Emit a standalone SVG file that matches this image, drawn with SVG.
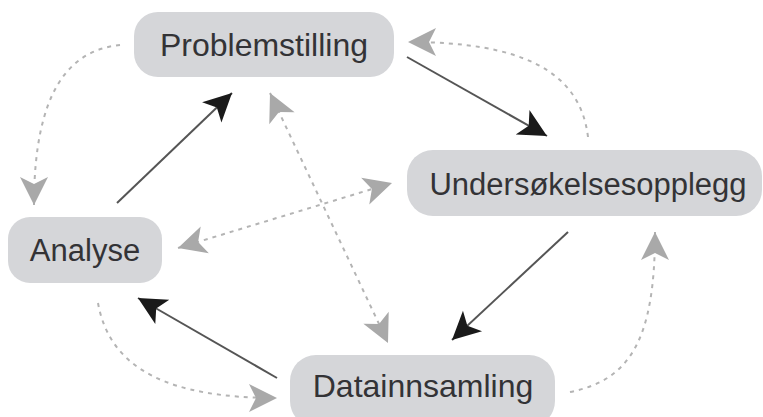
<svg xmlns="http://www.w3.org/2000/svg" width="763" height="417" viewBox="0 0 763 417">
<style>
.box{fill:#d5d6d9}
.lbl{font-family:"Liberation Sans",Arial,sans-serif;font-size:31px;fill:#333336;text-anchor:middle}
.big{font-size:32px}
.solid{fill:none;stroke:#555;stroke-width:2}
.dash{fill:none;stroke:#b4b4b4;stroke-width:2;stroke-dasharray:4 5}
</style>
<defs>
<marker id="hb" markerUnits="userSpaceOnUse" markerWidth="32" markerHeight="32" viewBox="-30 -16 32 32" refX="0" refY="0" orient="auto">
<path d="M0,0 L-28,-14 L-21,0 L-28,14 Z" fill="#1a1a1a"/>
</marker>
<marker id="hg" markerUnits="userSpaceOnUse" markerWidth="32" markerHeight="32" viewBox="-30 -16 32 32" refX="0" refY="0" orient="auto-start-reverse">
<path d="M0,0 L-28,-14 L-21,0 L-28,14 Z" fill="#a9a9a9"/>
</marker>
</defs>
<g id="connectors">
<line class="solid" x1="117" y1="203" x2="232" y2="93" marker-end="url(#hb)"/>
<line class="solid" x1="407" y1="57" x2="547" y2="136" marker-end="url(#hb)"/>
<line class="solid" x1="568" y1="232" x2="452" y2="340" marker-end="url(#hb)"/>
<line class="solid" x1="277" y1="378" x2="138" y2="298" marker-end="url(#hb)"/>
<path class="dash" d="M120,45 C70,50 34,90 34,205" marker-end="url(#hg)"/>
<path class="dash" d="M588,137 C580,70 520,42 408,42" marker-end="url(#hg)"/>
<path class="dash" d="M570,392 C630,380 655,340 655,232" marker-end="url(#hg)"/>
<path class="dash" d="M98,303 C110,370 170,398 277,398" marker-end="url(#hg)"/>
<line class="dash" x1="270" y1="93" x2="388" y2="343" marker-start="url(#hg)" marker-end="url(#hg)"/>
<line class="dash" x1="178" y1="248" x2="392" y2="183" marker-start="url(#hg)" marker-end="url(#hg)"/>
</g>
<g id="problemstilling">
<rect class="box" x="134" y="12" width="260" height="65" rx="24"/>
<text class="lbl big" x="264" y="56">Problemstilling</text>
</g>
<g id="undersokelsesopplegg">
<rect class="box" x="407" y="150" width="355" height="66" rx="26"/>
<text class="lbl" x="588" y="195">Undersøkelsesopplegg</text>
</g>
<g id="analyse">
<rect class="box" x="8" y="217" width="154" height="66" rx="22"/>
<text class="lbl" x="85" y="261">Analyse</text>
</g>
<g id="datainnsamling">
<rect class="box" x="290" y="355" width="265" height="72" rx="26"/>
<text class="lbl big" x="423" y="397">Datainnsamling</text>
</g>
</svg>
